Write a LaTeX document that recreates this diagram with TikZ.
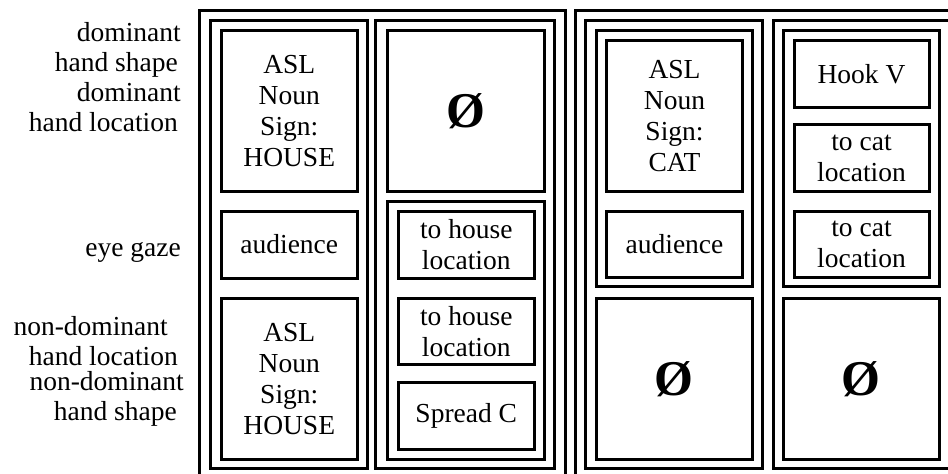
\documentclass[tikz,border=0pt]{standalone}
\usepackage{fontspec}
\setmainfont{Liberation Serif}
\tikzset{
  frame/.style={draw, line width=3pt, rectangle, inner sep=0pt, outer sep=0pt},
  txt/.style={font=\fontsize{27.5}{31}\selectfont, align=center},
  nul/.style={font=\bfseries\fontsize{50}{50}\selectfont},
  lab/.style={anchor=east, align=right, inner sep=0pt, font=\fontsize{27.5}{29.5}\selectfont}
}
% \bx{name}{x1}{y1}{x2}{y2}{options}{text}
\newcommand\bx[7]{\node[frame,#6,minimum width={#4-#2},minimum height={#5-#3}] (#1) at ({(#2+#4)/2},{(#3+#5)/2}) {#7};}
\begin{document}
\begin{tikzpicture}[x=1pt,y=-1pt]
\useasboundingbox (0,0) rectangle (948,474);
\clip (0,0) rectangle (948,474);
% row labels
\node[lab] (l1) at (181,50) {dominant\\hand shape\hspace*{3pt}};
\node[lab] (l2) at (181,107) {dominant\\hand location\hspace*{3pt}};
\node[lab] (l3) at (181,252) {eye gaze};
\node[lab] (l4) at (178,341) {non-dominant\hspace*{10pt}\\hand location};
\node[lab] (l5) at (184,399) {non-dominant\\hand shape\hspace*{7pt}};
% outer frames
\bx{outL}{199.5}{10.5}{565}{482}{}{}
\bx{outR}{575}{10.5}{962}{482}{}{}
% column 1
\bx{c1}{210}{20}{367.5}{468}{}{}
\bx{c1a}{221.5}{30.5}{357}{191}{txt}{ASL\\Noun\\Sign:\\HOUSE}
\bx{c1b}{221.5}{211}{357}{278}{txt}{audience}
\bx{c1c}{221.5}{298}{357}{459.5}{txt}{ASL\\Noun\\Sign:\\HOUSE}
% column 2
\bx{c2}{375.5}{20}{554.5}{468}{}{}
\bx{c2a}{387}{30.5}{544.5}{191.5}{nul}{Ø}
\bx{c2f}{387}{201.5}{544.5}{459.5}{}{}
\bx{c2b}{398.5}{211.5}{534}{278}{txt}{to house\\location}
\bx{c2c}{398.5}{298}{534}{364.5}{txt}{to house\\location}
\bx{c2d}{398.5}{382}{534}{449.5}{txt}{Spread C}
% column 3
\bx{c3}{585.5}{20}{762}{468}{}{}
\bx{c3f}{596.5}{30.5}{752}{286}{}{}
\bx{c3a}{606.5}{40.5}{742.5}{191}{txt}{ASL\\Noun\\Sign:\\CAT}
\bx{c3b}{606.5}{211}{742.5}{277}{txt}{audience}
\bx{c3c}{596.5}{298}{752}{459.5}{nul}{Ø}
% column 4
\bx{c4}{773.5}{20}{953}{468}{}{}
\bx{c4f}{783}{30.5}{939.5}{286}{}{}
\bx{c4a}{794}{40.5}{929}{107}{txt}{Hook V}
\bx{c4b}{794}{124.5}{929}{191.5}{txt}{to cat\\location}
\bx{c4c}{794}{211}{929}{277}{txt}{to cat\\location}
\bx{c4d}{783}{298}{939.5}{459.5}{nul}{Ø}
\end{tikzpicture}
\end{document}
